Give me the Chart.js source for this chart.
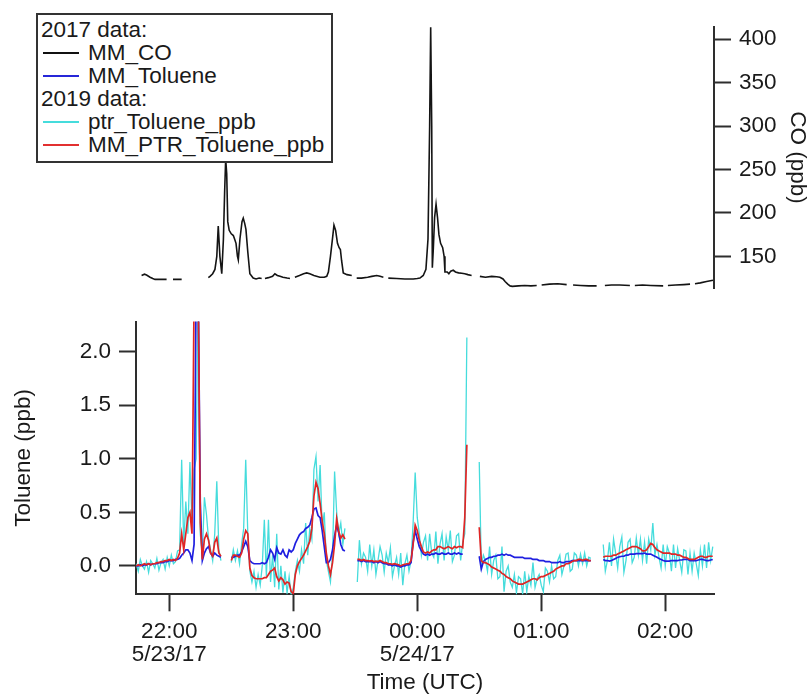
<!DOCTYPE html>
<html>
<head>
<meta charset="utf-8">
<script src="https://cdn.jsdelivr.net/npm/chart.js@4.4.1/dist/chart.umd.min.js"></script>
<style>
  html, body { margin: 0; padding: 0; background: #fff; width: 811px; height: 694px; overflow: hidden; }
  #wrap { position: relative; width: 811px; height: 694px; }
  #coCanvas { position: absolute; left: 0; top: 0; }
  #tolCanvas { position: absolute; left: 0; top: 300px; }
  #legend {
    position: absolute; left: 36px; top: 13px; width: 297px; height: 150px;
    box-sizing: border-box; border: 2px solid #333; background: #fff;
    font: 22.5px "Liberation Sans", Arial, Helvetica, sans-serif; color: #1a1a1a;
    padding-top: 2.5px; z-index: 5;
  }
  #legend .row { height: 23.1px; line-height: 23.1px; white-space: nowrap; position: relative; }
  #legend .head { padding-left: 3px; }
  #legend .item { padding-left: 50px; }
  #legend .swatch { position: absolute; left: 5px; top: 11px; width: 36px; height: 2px; }
</style>
</head>
<body>
<div id="wrap">
  <canvas id="coCanvas" width="811" height="310"></canvas>
  <canvas id="tolCanvas" width="811" height="394"></canvas>
  <div id="legend">
    <div class="row head">2017 data:</div>
    <div class="row item"><span class="swatch" style="background:#111"></span>MM_CO</div>
    <div class="row item"><span class="swatch" style="background:#2626d8"></span>MM_Toluene</div>
    <div class="row head">2019 data:</div>
    <div class="row item"><span class="swatch" style="background:#45dcdc"></span>ptr_Toluene_ppb</div>
    <div class="row item"><span class="swatch" style="background:#e23030"></span>MM_PTR_Toluene_ppb</div>
  </div>
</div>
<script>
// Time axis: minutes after 22:00 UTC on 5/23/17
const timeMin = -16.1;
const timeMax = 263.6;
const timeTicks = [0, 60, 120, 180, 240];
const timeLabels = [['22:00', '5/23/17'], ['23:00'], ['00:00', '5/24/17'], ['01:00'], ['02:00']];

// CO (ppb), 2017; null marks a break in the record
const coMinutes = [-13.4, -12, -11, -9.3, -8, -6.9, -4, -1.3, 0.2, 1.8, 6.0, 12,
  18.9, 19.7, 21, 22.1, 23, 23.7, 24.5, 25.4, 26.2, 26.8, 27.3, 27.8, 28.3, 29.0, 30, 31.0, 31.6, 32.3, 33.0, 33.4,
  34.2, 35.2, 35.8, 36.5, 37.1, 38, 39.0, 40.6, 42, 43.5, 44.7, 45.5,
  46.3, 48, 50, 51.1, 52.3, 53.6, 55, 57, 58.4, 59.6,
  60.8, 63, 65, 66.5, 68, 70, 72.9, 75, 76.2, 77, 78, 79.2, 79.7, 80.5, 81.4, 82.2, 82.8, 83.4, 84.2, 86, 88.3, 89.5,
  90.7, 93, 96, 98, 100.4, 102, 103.6, 104.8,
  106, 110, 114, 118.1, 120, 121.3, 122.9, 124.2, 125.2, 126, 126.5, 127.0, 127.3, 127.8, 128.4, 129.1, 129.8,
  130.5, 131.3, 132.3, 133, 133.4, 134.5, 135.3, 136.2, 137.4, 138.5, 140, 141.5, 143, 144.5, 146.3, 148.3,
  150.3, 153, 156, 158.4, 160, 161.5, 162.5, 163.8, 164.9, 166, 169, 172, 175, 177.8, 179,
  180.2, 184, 188, 192.3, 193.8, 195.4, 199, 203, 206.8, 208.8, 210.8, 214, 218, 222.9, 224.1,
  225.3, 229, 233, 239.0, 240.2, 241.3, 245, 249, 252.0, 253.2, 254.4, 257, 260, 263.1];
const coPpb = [128, 129.5, 128.5, 126, 124.5, 123.5, 123.5, 123.5, null, 123.5, 123.5, null,
  125.5, 127, 130, 135, 150, 185, 150, 130, 170, 225, 262, 245, 190, 180, 176, 174, 170, 165, 150, 146,
  170, 190, 194, 188, 181, 155, 130, 125, 124, 125, 124.5, null,
  124.5, 125.5, 127, 130, 128, 127, 126, 125, 124.5, null,
  126, 128, 130, 131, 130, 128, 126, 126, 127, 132, 150, 175, 186, 180, 165, 160, 158, 145, 131, 129, 128, null,
  125, 125, 126, 127, 128, 127, 126, null,
  125, 124.5, 124, 124, 124.5, 125, 128, 135, 170, 300, 414, 300, 137, 160, 195, 210, 195,
  175, 165, 160, 150, 132, 132, 130, 133, 134, 132, 131, 130.5, 130, 129, 128, null,
  127, 126, 127, 126.5, 126, 124, 121, 118, 116, 115.5, 116, 116.5, 116, 116.5, null,
  117, 118, 118.5, 117.5, null, 117, 116.5, 116, 116, null, 116.5, 117, 117, 116.5, null,
  116.5, 117, 116.5, 116, null, 116.5, 117, 117.5, 118, null, 118.5, 119.5, 121, 122.5];
const coTicks = [150, 200, 250, 300, 350, 400];

// Toluene (ppb): one-minute samples in five runs; first minute of each run
const runStart = [-16, 30, 91, 150, 210];

// 2019 PTR toluene, raw
const ptrToluenePpb = [
  [0.02, -0.05, 0.06, 0.0, -0.03, 0.04, -0.06, 0.05, 0.02, -0.02, 0.07, -0.04, 0.03, 0.06, -0.03, 0.08, 0.0, 0.1, 0.02, 0.04,
   0.14, 0.15, 0.99, 0.2, 0.6, 0.3, 0.97, 0.4, 0.9, 1.0, 2.6, 0.3, 0.1, 0.64, 0.48, 0.25, 0.15, 0.05, 0.3, 0.79, 0.15, 0.05],
  [0.03, 0.15, 0.05, 0.14, 0.02, 0.2, 0.35, 0.99, 0.3, -0.05, -0.15, -0.05, -0.2, -0.08, -0.18, 0.0, 0.43, -0.1, 0.43, -0.15,
   0.1, -0.2, 0.3, -0.22, 0.0, -0.25, -0.05, -0.25, -0.1, -0.28, -0.2, -0.05, 0.05, -0.05, 0.15, 0.02, 0.40, 0.1, 0.35, 0.25,
   0.9, 1.02, 0.6, 0.94, 0.35, 0.5, 0.05, -0.05, -0.15, 0.1, 0.88, 0.5, 0.3, 0.4, 0.2, 0.35],
  [-0.15, 0.24, 0.02, 0.12, 0.08, -0.05, 0.2, 0.0, 0.15, -0.08, 0.05, 0.18, 0.1, -0.06, 0.12, 0.03, 0.17, -0.1, 0.0, 0.08,
   -0.08, 0.12, -0.18, 0.02, 0.1, -0.05, 0.05, 0.4, 0.87, 0.45, 0.3, 0.1, 0.22, 0.28, 0.05, 0.3, 0.12, 0.08, 0.32, 0.02,
   0.2, 0.3, 0.05, 0.27, 0.15, 0.33, 0.04, 0.1, 0.28, 0.3, 0.05, 0.22, 0.3, 2.13],
  [0.97, 0.0, 0.1, 0.05, -0.05, 0.18, -0.08, 0.05, 0.1, -0.12, -0.1, 0.18, -0.24, -0.05, 0.0, -0.15, -0.2, -0.08, -0.25, -0.1,
   -0.12, -0.26, -0.05, -0.24, -0.1, -0.18, 0.03, -0.2, -0.12, -0.08, -0.18, -0.24, -0.02, -0.05, -0.15, 0.0, -0.12, -0.1, 0.05, 0.1,
   -0.08, 0.0, 0.11, 0.12, -0.05, -0.03, 0.12, 0.1, 0.0, 0.11, 0.02, 0.12, 0.0, 0.08, 0.07],
  [0.2, -0.05, 0.05, 0.22, 0.0, 0.25, 0.12, -0.02, 0.18, 0.27, -0.06, 0.05, 0.22, 0.25, 0.03, 0.08, 0.26, 0.1, 0.25, 0.05,
   0.22, 0.02, 0.25, 0.15, 0.40, 0.1, 0.2, 0.08, -0.02, 0.2, 0.0, 0.18, 0.12, -0.05, 0.2, -0.02, 0.16, 0.05, -0.06, 0.15,
   0.14, -0.08, 0.12, -0.05, 0.12, 0.02, -0.09, 0.15, 0.0, 0.2, -0.02, 0.22, 0.05, 0.18]
];

// 2019 PTR toluene, smoothed
const mmPtrToluenePpb = [
  [0.0, 0.01, 0.0, 0.01, 0.02, 0.01, 0.02, 0.01, 0.02, 0.02, 0.03, 0.03, 0.04, 0.04, 0.05, 0.05, 0.06, 0.05, 0.06, 0.05,
   0.07, 0.12, 0.30, 0.15, 0.3, 0.45, 0.5, 0.3, 2.5, 3.0, 2.6, 0.4, 0.06, 0.25, 0.30, 0.24, 0.12, 0.09, 0.22, 0.26, 0.12, 0.09],
  [0.05, 0.10, 0.10, 0.09, 0.08, 0.12, 0.25, 0.33, 0.30, -0.02, -0.09, -0.11, -0.12, -0.12, -0.12, -0.12, -0.11, -0.11, -0.08, -0.05,
   -0.04, -0.02, -0.10, -0.14, -0.11, -0.13, -0.17, -0.15, -0.16, -0.24, -0.26, -0.08, 0.0, 0.04, 0.07, 0.10, 0.14, 0.18, 0.23, 0.35,
   0.65, 0.78, 0.72, 0.58, 0.42, 0.30, 0.12, 0.0, -0.08, 0.03, 0.2, 0.44, 0.32, 0.26, 0.29, 0.25],
  [0.06, 0.06, 0.05, 0.06, 0.05, 0.05, 0.045, 0.05, 0.04, 0.045, 0.04, 0.05, 0.04, 0.03, 0.03, 0.02, 0.02, 0.015, 0.02, 0.015,
   0.01, 0.0, 0.01, 0.015, 0.02, 0.02, 0.05, 0.2, 0.38, 0.33, 0.24, 0.18, 0.13, 0.12, 0.13, 0.12, 0.14, 0.15, 0.15, 0.18,
   0.18, 0.17, 0.16, 0.17, 0.18, 0.17, 0.16, 0.18, 0.17, 0.18, 0.18, 0.17, 0.45, 1.13],
  [0.36, 0.05, 0.03, 0.03, 0.02, 0.01, -0.01, -0.02, -0.03, -0.04, -0.05, -0.07, -0.08, -0.1, -0.11, -0.12, -0.14, -0.15, -0.16, -0.17,
   -0.17, -0.17, -0.16, -0.15, -0.14, -0.13, -0.12, -0.12, -0.13, -0.11, -0.1, -0.1, -0.09, -0.08, -0.07, -0.06, -0.05, -0.03, -0.02, -0.01,
   0.0, 0.0, 0.02, 0.02, 0.03, 0.04, 0.05, 0.05, 0.06, 0.06, 0.05, 0.06, 0.06, 0.05, 0.05],
  [0.08, 0.09, 0.09, 0.09, 0.09, 0.1, 0.1, 0.11, 0.12, 0.13, 0.14, 0.15, 0.16, 0.17, 0.18, 0.18, 0.18, 0.17, 0.16, 0.14,
   0.14, 0.15, 0.18, 0.21, 0.2, 0.17, 0.15, 0.14, 0.13, 0.12, 0.12, 0.12, 0.12, 0.11, 0.11, 0.11, 0.1, 0.1, 0.09, 0.08,
   0.08, 0.07, 0.06, 0.06, 0.06, 0.07, 0.08, 0.09, 0.09, 0.08, 0.08, 0.09, 0.09, 0.09]
];

// 2017 toluene
const mmToluene = [
  [0.0, 0.0, 0.01, 0.0, 0.01, 0.01, 0.02, 0.01, 0.02, 0.02, 0.02, 0.03, 0.03, 0.03, 0.04, 0.04, 0.05, 0.05, 0.05, 0.06,
   0.06, 0.07, 0.10, 0.12, 0.15, 0.15, 0.12, 0.05, 0.2, 2.6, 2.6, 0.6, 0.05, 0.12, 0.16, 0.18, 0.12, 0.09, 0.12, 0.10, 0.09, 0.08],
  [0.08, 0.08, 0.09, 0.10, 0.10, 0.13, 0.18, 0.23, 0.18, 0.05, 0.03, 0.02, 0.02, 0.02, 0.02, 0.03, 0.02, 0.03, 0.08, 0.15,
   0.12, 0.06, 0.17, 0.12, 0.11, 0.15, 0.10, 0.08, 0.15, 0.13, 0.15, 0.21, 0.25, 0.29, 0.31, 0.32, 0.35, 0.36, 0.38, 0.45,
   0.53, 0.54, 0.47, 0.45, 0.33, 0.18, 0.03, 0.03, 0.06, 0.15, 0.28, 0.38, 0.31, 0.2, 0.15, 0.14],
  [0.05, 0.05, 0.04, 0.05, 0.04, 0.04, 0.04, 0.04, 0.03, 0.04, 0.03, 0.04, 0.03, 0.02, 0.02, 0.01, 0.01, 0.0, 0.01, 0.0,
   0.0, -0.01, 0.0, 0.0, 0.01, 0.01, 0.03, 0.22, 0.33, 0.25, 0.18, 0.14, 0.11, 0.10, 0.11, 0.10, 0.11, 0.11, 0.12, 0.11,
   0.11, 0.12, 0.11, 0.11, 0.12, 0.11, 0.11, 0.12, 0.11, 0.12, 0.11, 0.11, null, null],
  [0.09, -0.03, 0.04, 0.06, 0.07, 0.08, 0.08, 0.09, 0.09, 0.1, 0.1, 0.11, 0.1, 0.11, 0.1, 0.1, 0.09, 0.08, 0.08, 0.08,
   0.08, 0.08, 0.07, 0.07, 0.07, 0.07, 0.06, 0.06, 0.06, 0.05, 0.05, 0.05, 0.04, 0.04, 0.04, 0.03, 0.03, 0.03, 0.03, 0.04,
   0.03, 0.03, 0.04, 0.04, 0.04, 0.05, 0.05, 0.05, 0.05, 0.05, 0.05, 0.05, 0.05, 0.05, 0.05],
  [0.06, 0.05, 0.05, 0.045, 0.05, 0.06, 0.07, 0.08, 0.085, 0.09, 0.09, 0.1, 0.1, 0.11, 0.11, 0.11, 0.115, 0.115, 0.115, 0.115,
   0.12, 0.11, 0.11, 0.11, 0.1, 0.09, 0.08, 0.07, 0.06, 0.05, 0.045, 0.045, 0.045, 0.05, 0.05, 0.05, 0.05, 0.055, 0.055, 0.06,
   0.06, 0.06, 0.05, 0.05, 0.05, 0.05, 0.055, 0.06, 0.06, 0.055, 0.05, 0.05, 0.055, 0.06]
];
const tolTicks = [0, 0.5, 1.0, 1.5, 2.0];

// Join the runs into one point list, with a null between runs so the line breaks
function runsToPoints(runs) {
  const pts = [];
  runs.forEach((run, r) => {
    if (r > 0) pts.push({ x: runStart[r] - 1.5, y: null });
    run.forEach((v, i) => pts.push({ x: runStart[r] + i, y: v }));
  });
  return pts;
}
function pairPoints(xs, ys) {
  return xs.map((x, i) => ({ x: x, y: ys[i] }));
}

const FONT = { family: '"Liberation Sans", Arial, Helvetica, sans-serif', size: 22.5 };
Chart.defaults.font.family = FONT.family;
Chart.defaults.font.size = FONT.size;
Chart.defaults.color = '#1a1a1a';

const AXIS_COLOR = '#2e2e2e';
const axisGrid = { display: true, drawOnChartArea: false, drawTicks: true, tickLength: 17, tickWidth: 2, tickColor: AXIS_COLOR };
const axisBorder = { display: true, color: AXIS_COLOR, width: 2 };

// Upper panel: CO on a right-hand axis
new Chart(document.getElementById('coCanvas'), {
  type: 'line',
  data: {
    datasets: [{
      label: 'MM_CO',
      data: pairPoints(coMinutes, coPpb),
      borderColor: '#141414',
      borderWidth: 1.6,
      pointRadius: 0,
      tension: 0,
      spanGaps: false
    }]
  },
  options: {
    responsive: false,
    animation: false,
    events: [],
    layout: { padding: { top: 26.7, left: 136, right: 0, bottom: 8 } },
    plugins: { legend: { display: false }, tooltip: { enabled: false } },
    scales: {
      x: { type: 'linear', min: timeMin, max: timeMax, display: false },
      y: {
        type: 'linear', position: 'right', min: 113, max: 414.5,
        grid: axisGrid, border: axisBorder,
        afterBuildTicks: s => { s.ticks = coTicks.map(v => ({ value: v })); },
        afterFit: s => { s.width = 97; },
        ticks: { padding: 8, color: '#1a1a1a', callback: v => String(v) },
        title: { display: true, text: 'CO (ppb)', color: '#1a1a1a', padding: { top: 0, bottom: 0 } }
      }
    }
  }
});

// Lower panel: toluene
new Chart(document.getElementById('tolCanvas'), {
  type: 'line',
  data: {
    datasets: [
      {
        label: 'MM_PTR_Toluene_ppb',
        data: runsToPoints(mmPtrToluenePpb),
        borderColor: '#e02525', borderWidth: 1.7, pointRadius: 0, tension: 0, spanGaps: false
      },
      {
        label: 'MM_Toluene',
        data: runsToPoints(mmToluene),
        borderColor: '#1f1fe0', borderWidth: 1.7, pointRadius: 0, tension: 0, spanGaps: false
      },
      {
        label: 'ptr_Toluene_ppb',
        data: runsToPoints(ptrToluenePpb),
        borderColor: '#45dcdc', borderWidth: 1.3, pointRadius: 0, tension: 0, spanGaps: false
      }
    ]
  },
  options: {
    responsive: false,
    animation: false,
    events: [],
    layout: { padding: { top: 15, left: 0, right: 97, bottom: 0 } },
    plugins: { legend: { display: false }, tooltip: { enabled: false } },
    scales: {
      x: {
        type: 'linear', min: timeMin, max: timeMax,
        grid: axisGrid, border: axisBorder,
        afterBuildTicks: s => { s.ticks = timeTicks.map(v => ({ value: v })); },
        afterFit: s => { s.height = 99.7; },
        ticks: {
          padding: 9, color: '#1a1a1a', maxRotation: 0, autoSkip: false,
          font: { size: 22.5, lineHeight: 1.03 },
          callback: v => timeLabels[timeTicks.indexOf(v)]
        },
        title: { display: true, text: 'Time (UTC)', color: '#1a1a1a', font: { size: 22.5, lineHeight: 1.0 }, padding: { top: 0, bottom: 0 } }
      },
      y: {
        type: 'linear', position: 'left', min: -0.265, max: 2.28,
        grid: axisGrid, border: axisBorder,
        afterBuildTicks: s => { s.ticks = tolTicks.map(v => ({ value: v })); },
        afterFit: s => { s.width = 136; },
        ticks: { padding: 8, color: '#1a1a1a', callback: v => Number(v).toFixed(1) },
        title: { display: true, text: 'Toluene (ppb)', color: '#1a1a1a', padding: { top: 10, bottom: 0 } }
      }
    }
  }
});
</script>
</body>
</html>
